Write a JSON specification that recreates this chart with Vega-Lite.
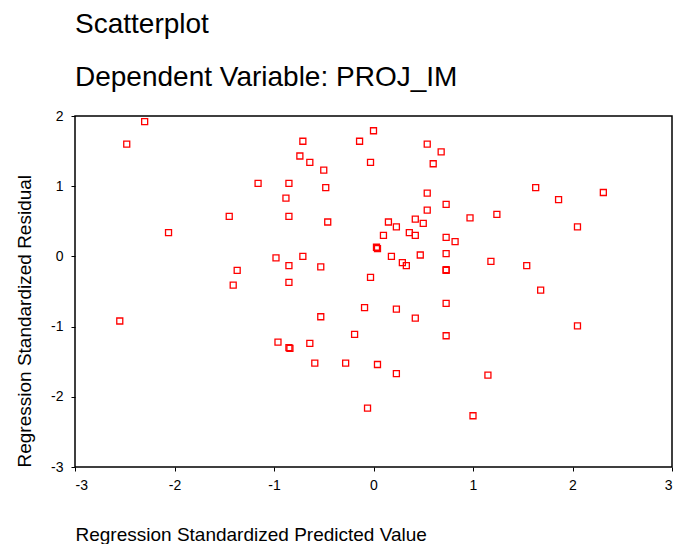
{
  "$schema": "https://vega.github.io/schema/vega-lite/v6.json",
  "autosize": "none",
  "padding": {"left": 75, "top": 116, "right": 1, "bottom": 77},
  "width": 597,
  "height": 351,
  "background": "white",
  "title": {
    "text": "Scatterplot",
    "subtitle": "Dependent Variable: PROJ_IM",
    "anchor": "start",
    "frame": "group",
    "dx": 0,
    "font": "Liberation Sans",
    "subtitleFont": "Liberation Sans",
    "fontSize": 28,
    "subtitleFontSize": 28,
    "fontWeight": "normal",
    "color": "black",
    "subtitleColor": "black",
    "subtitlePadding": 25,
    "offset": 17
  },
  "config": {
    "view": {"stroke": "black", "strokeWidth": 1.5},
    "axis": {
      "grid": false,
      "domain": false,
      "tickColor": "black",
      "tickSize": 4,
      "labelFont": "Liberation Sans",
      "labelFontSize": 14,
      "labelColor": "black",
      "titleFont": "Liberation Sans",
      "titleFontSize": 19,
      "titleFontWeight": "normal",
      "titleColor": "black"
    }
  },
  "data": {
    "values": [
      {"x": -2.48, "y": 1.60}, {"x": -2.30, "y": 1.92}, {"x": -2.06, "y": 0.34},
      {"x": -1.45, "y": 0.57}, {"x": -1.16, "y": 1.04}, {"x": -0.85, "y": 1.04},
      {"x": -0.88, "y": 0.83}, {"x": -0.85, "y": 0.57}, {"x": -0.74, "y": 1.43},
      {"x": -0.71, "y": 1.64}, {"x": -0.64, "y": 1.34}, {"x": -0.50, "y": 1.23},
      {"x": -0.48, "y": 0.98}, {"x": -0.46, "y": 0.49}, {"x": -0.14, "y": 1.64},
      {"x": 0.00, "y": 1.79}, {"x": -0.03, "y": 1.34}, {"x": 0.03, "y": 0.13},
      {"x": 0.04, "y": 0.11}, {"x": -0.03, "y": -0.30}, {"x": -0.98, "y": -0.02},
      {"x": -0.71, "y": 0.00}, {"x": -0.85, "y": -0.13}, {"x": -0.53, "y": -0.15},
      {"x": -1.37, "y": -0.20}, {"x": -1.41, "y": -0.41}, {"x": -0.85, "y": -0.37},
      {"x": 0.54, "y": 1.60}, {"x": 0.68, "y": 1.49}, {"x": 0.60, "y": 1.32},
      {"x": 1.63, "y": 0.98}, {"x": 1.86, "y": 0.81}, {"x": 2.31, "y": 0.91},
      {"x": 0.54, "y": 0.90}, {"x": 0.73, "y": 0.74}, {"x": 0.54, "y": 0.66},
      {"x": 0.97, "y": 0.55}, {"x": 1.24, "y": 0.60}, {"x": 2.05, "y": 0.42},
      {"x": 0.15, "y": 0.49}, {"x": 0.23, "y": 0.42}, {"x": 0.42, "y": 0.53},
      {"x": 0.50, "y": 0.47}, {"x": 0.36, "y": 0.34}, {"x": 0.42, "y": 0.30},
      {"x": 0.10, "y": 0.30}, {"x": 0.73, "y": 0.27}, {"x": 0.82, "y": 0.21},
      {"x": 0.18, "y": 0.00}, {"x": 0.47, "y": 0.02}, {"x": 0.73, "y": 0.04},
      {"x": 0.29, "y": -0.09}, {"x": 0.33, "y": -0.13}, {"x": 0.73, "y": -0.19},
      {"x": 0.73, "y": -0.20}, {"x": 1.18, "y": -0.07}, {"x": 1.54, "y": -0.13},
      {"x": 1.68, "y": -0.48}, {"x": -0.09, "y": -0.73}, {"x": 0.23, "y": -0.75},
      {"x": 0.42, "y": -0.88}, {"x": 0.73, "y": -0.67}, {"x": 0.73, "y": -1.13},
      {"x": 2.05, "y": -0.99}, {"x": 0.04, "y": -1.54}, {"x": 0.23, "y": -1.67},
      {"x": 1.15, "y": -1.69}, {"x": -0.06, "y": -2.16}, {"x": 1.00, "y": -2.27},
      {"x": -2.55, "y": -0.92}, {"x": -0.96, "y": -1.22}, {"x": -0.85, "y": -1.30},
      {"x": -0.84, "y": -1.31}, {"x": -0.64, "y": -1.24}, {"x": -0.53, "y": -0.86},
      {"x": -0.19, "y": -1.11}, {"x": -0.59, "y": -1.52}, {"x": -0.28, "y": -1.52}
    ]
  },
  "mark": {"type": "point", "shape": "square", "filled": false, "color": "#ff0000", "size": 36, "strokeWidth": 1.3, "opacity": 1},
  "encoding": {
    "x": {
      "field": "x", "type": "quantitative",
      "scale": {"domain": [-3, 3], "nice": false, "zero": false},
      "axis": {"values": [-3, -2, -1, 0, 1, 2, 3], "labelExpr": "'' + datum.value", "title": "Regression Standardized Predicted Value", "titleAnchor": "start", "titleAlign": "left", "titlePadding": 33, "labelPadding": 7}
    },
    "y": {
      "field": "y", "type": "quantitative",
      "scale": {"domain": [-3, 2], "nice": false, "zero": false},
      "axis": {"values": [-3, -2, -1, 0, 1, 2], "labelExpr": "'' + datum.value", "title": "Regression Standardized Residual", "titleAnchor": "start", "titlePadding": 16, "labelPadding": 8}
    }
  }
}
